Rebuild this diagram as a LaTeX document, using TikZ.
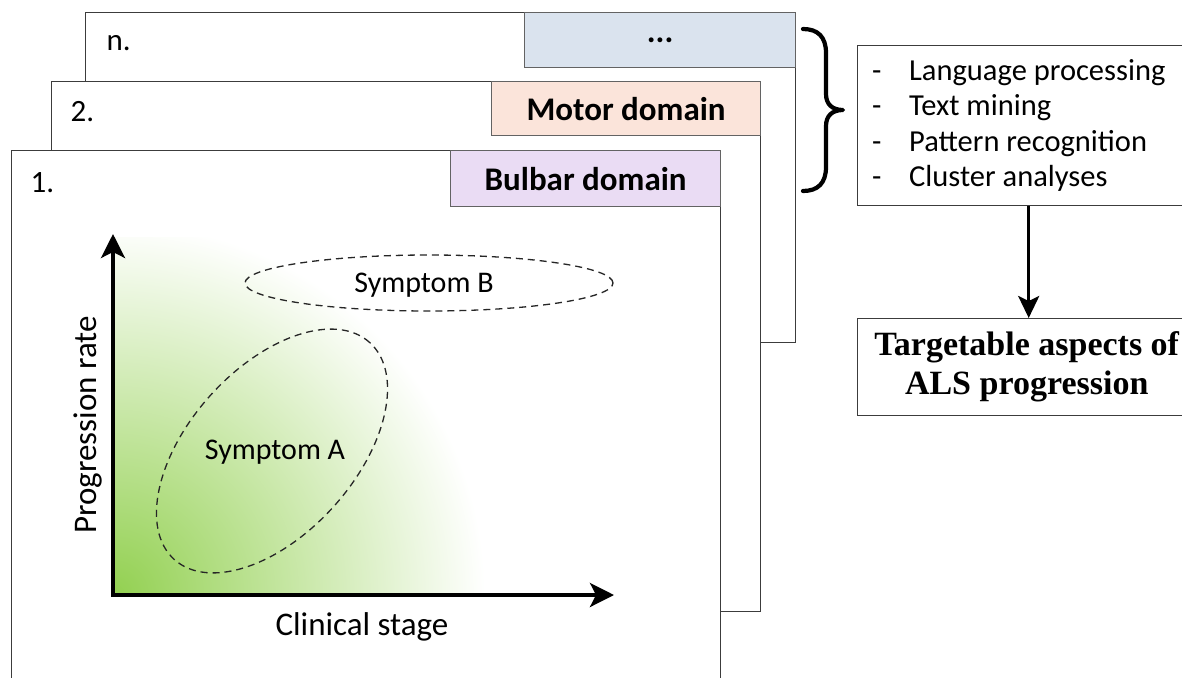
\documentclass[tikz,border=0pt]{standalone}
\usepackage{fontspec}
\setmainfont{Carlito}
\newfontfamily\serifbold{Liberation Serif}
\usetikzlibrary{arrows.meta,shapes.geometric}

\definecolor{edgegray}{RGB}{60,60,60}
\definecolor{dotsfill}{RGB}{218,227,238}
\definecolor{motorfill}{RGB}{251,228,218}
\definecolor{bulbarfill}{RGB}{234,220,244}
\definecolor{glowgreen}{RGB}{146,208,80}

\tikzset{
  panel/.style={draw=edgegray, line width=1.4pt, fill=white, anchor=north west, inner sep=0pt},
  domainbox/.style={draw=edgegray!80, line width=1.2pt, anchor=north west, inner sep=0pt},
  domaintext/.style={font=\fontsize{33}{38}\selectfont\bfseries},
  panelnum/.style={font=\fontsize{31}{36}\selectfont},
  axislabel/.style={font=\fontsize{33}{38}\selectfont},
  symptomring/.style={ellipse, draw=black!85, line width=1.3pt, dash pattern=on 7pt off 5pt, inner sep=0pt},
  symptomtext/.style={font=\fontsize{30}{34}\selectfont},
  axisarrow/.style={line width=3.6pt, -{Stealth[length=24pt, width=24pt, inset=6pt]}},
  sidebox/.style={draw=edgegray, line width=1.4pt, anchor=north west, inner sep=0pt},
  listtext/.style={font=\fontsize{30.5}{35.5}\selectfont, anchor=north west, inner sep=0pt, align=left},
  curlybrace/.style={line width=4.2pt, line cap=round, line join=round},
}

\begin{document}
\begin{tikzpicture}[x=1pt, y=-1pt]
\useasboundingbox (0,0) rectangle (1182,677);

% back sheet: n
\node[panel, minimum width=710pt, minimum height=330pt] (sheetn) at (85,12) {};
\node[domainbox, fill=dotsfill, minimum width=271pt, minimum height=55pt] (dotsbox) at (524,12) {};
\node[domaintext] (dots) at (dotsbox.center) {...};
\node[panelnum, anchor=west] (numn) at (103,43) {n.};

% middle sheet: 2
\node[panel, minimum width=709pt, minimum height=530pt] (sheettwo) at (51,81) {};
\node[domainbox, fill=motorfill, minimum width=269pt, minimum height=54pt] (motorbox) at (491,81) {};
\node[domaintext] (motor) at (motorbox.center) {Motor domain};
\node[panelnum, anchor=west] (numtwo) at (67,112) {2.};

% front sheet: 1
\node[panel, minimum width=709pt, minimum height=560pt] (sheetone) at (11,150) {};
\node[domainbox, fill=bulbarfill, minimum width=270pt, minimum height=56pt] (bulbarbox) at (450,150) {};
\node[domaintext] (bulbar) at (bulbarbox.center) {Bulbar domain};
\node[panelnum, anchor=west] (numone) at (27,183) {1.};

% green glow in the plot corner
\begin{scope}
  \clip (113,237) rectangle (612,595);
  \shade[inner color=glowgreen, outer color=white] (113,595) circle (372);
\end{scope}

% axes
\coordinate (origin) at (113,595);
\coordinate (ytip) at (113,234);
\coordinate (xtip) at (614,595);
\draw[axisarrow] ([yshift=-1.8pt]origin) -- (ytip);
\draw[axisarrow] ([xshift=-1.8pt]origin) -- (xtip);
\node[axislabel, rotate=90] (ylab) at (88,425) {Progression rate};
\node[axislabel] (xlab) at (362,627) {Clinical stage};

% symptom regions
\node[symptomring, minimum width=292pt, minimum height=166pt, rotate=48] (ringa) at (272,451) {};
\node[symptomtext] (syma) at (275,452) {Symptom A};
\node[symptomring, minimum width=368pt, minimum height=56pt] (ringb) at (429,283) {};
\node[symptomtext] (symb) at (424,285) {Symptom B};

% curly brace gathering the sheets
\coordinate (bracetop) at (803,29);
\coordinate (bracetip) at (843,110);
\coordinate (bracebot) at (803,191);
\draw[curlybrace] (bracetop) .. controls (818,29) and (826,37) .. (826,53)
  -- (826,94) .. controls (826,104) and (832,110) .. (bracetip)
  .. controls (832,110) and (826,116) .. (826,126)
  -- (826,167) .. controls (826,183) and (818,191) .. (bracebot);

% methods box
\node[sidebox, minimum width=342pt, minimum height=160pt] (methods) at (857,45) {};
\node[listtext] (methodlist) at (872,55) {%
  \begin{tabular}{@{}p{37pt}@{}l@{}}
  - & Language processing\\
  - & Text mining\\
  - & Pattern recognition\\
  - & Cluster analyses
  \end{tabular}};

% outcome box
\node[sidebox, minimum width=342pt, minimum height=97pt] (target) at (857,318) {};
\node[font=\fontsize{34}{39}\selectfont\serifbold\bfseries, align=center] (targettext) at ([xshift=-2pt]target.center) {Targetable aspects of\\ALS progression};

\draw[line width=3pt, -{Stealth[length=22pt, width=21pt, inset=5pt]}] (methods.south) -- (target.north);
\end{tikzpicture}
\end{document}
